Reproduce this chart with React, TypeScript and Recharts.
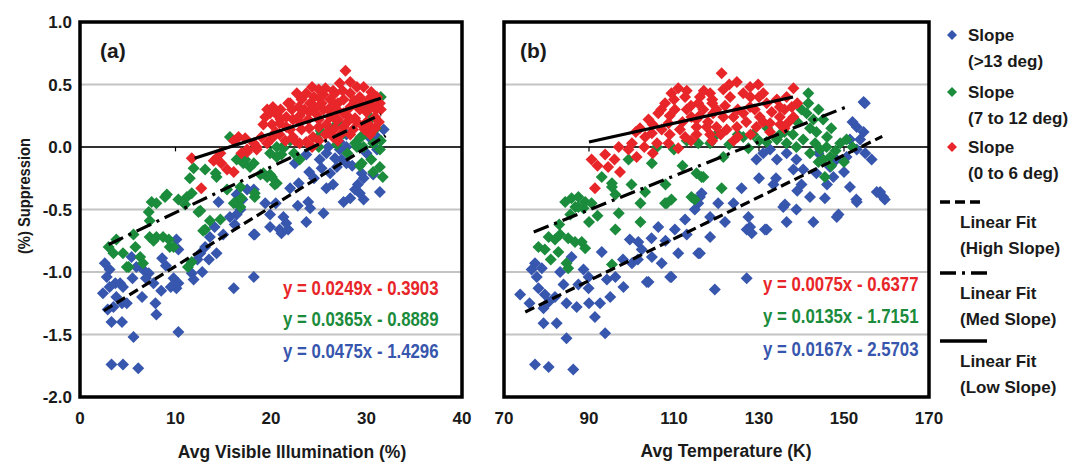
import {
  CartesianGrid,
  ReferenceArea,
  ReferenceLine,
  Scatter,
  ScatterChart,
  XAxis,
  YAxis,
} from "recharts";

const BLUE = "#3756ad";
const GREEN = "#1b8b3c";
const RED = "#e8262a";
const INK = "#1a1a1a";
const FONT = "'Liberation Sans', Arial, sans-serif";

// panel (a): suppression vs avg visible illumination (%)
const illumHigh = [
  [2.6, -0.93], [3.1, -0.98], [2.8, -1.04], [2.4, -1.17], [3.1, -1.12], [3.7, -1.09], [4.2, -1.09],
  [4.5, -1.12], [3.8, -1.2], [3.5, -1.28], [4.4, -1.25], [4.9, -1.25], [3.3, -1.4], [4.4, -1.4],
  [5.6, -1.52], [3.3, -1.74], [4.5, -1.74], [6.1, -1.77], [5.4, -0.88], [5.9, -0.96], [6.6, -0.98],
  [7.2, -1.01], [7.7, -1.09], [7.9, -1.25], [8.0, -1.34], [8.6, -0.89], [10.1, -0.74], [10.3, -0.82],
  [9.8, -1.05], [10.1, -1.13], [10.3, -1.09], [11.7, -1.01], [11.9, -1.06], [12.6, -0.85], [13.1, -0.8],
  [13.6, -0.72], [14.1, -0.64], [14.3, -0.85], [10.3, -1.48], [16.1, -1.13], [18.2, -1.04], [18.2, -0.7],
  [15.7, -0.56], [16.4, -0.54], [16.2, -0.62], [17.5, -0.34], [18.2, -0.34], [19.4, -0.45], [19.9, -0.54],
  [19.9, -0.64], [20.9, -0.66], [21.6, -0.61], [21.3, -0.56], [22.0, -0.33], [16.8, -0.5], [14.5, -0.44],
  [16.4, -0.38], [18.3, -0.7], [21.1, -0.69], [21.8, -0.66], [22.9, -0.29], [22.5, -0.13], [23.7, -0.06],
  [23.9, -0.44], [24.1, -0.49], [23.7, -0.6], [25.5, -0.53], [25.8, -0.33], [25.1, -0.1], [25.3, -0.17],
  [25.8, -0.05], [26.2, -0.21], [26.7, -0.09], [26.9, -0.16], [27.2, -0.02], [27.4, -0.1], [27.9, 0.0],
  [27.9, -0.13], [27.6, -0.44], [28.3, -0.41], [28.8, -0.34], [29.1, -0.3], [29.3, -0.37], [29.7, -0.42],
  [29.7, -0.25], [29.5, -0.21], [31.1, -0.02], [31.4, -0.36], [30.7, -0.22], [31.8, 0.14], [31.1, 0.08],
  [30.4, 0.07], [27.9, 0.1], [27.2, 0.04], [6.9, -1.05], [9.0, -0.95], [12.3, -0.9], [24.5, -0.25],
  [26.5, -0.3], [28.5, -0.15], [30.0, -0.05], [29.0, 0.02], [26.0, 0.0], [24.0, -0.2], [22.8, -0.47],
  [20.5, -0.45], [17.0, -0.42], [15.0, -0.7], [13.5, -0.9], [12.8, -1.0], [9.5, -1.12], [8.5, -1.15],
  [5.5, -1.05], [2.9, -1.3], [6.5, -1.2],
];
const illumMed = [
  [3.0, -0.8], [3.8, -0.74], [3.5, -0.85], [4.5, -0.85], [5.6, -0.7], [5.8, -0.8], [6.3, -0.88],
  [5.1, -0.96], [7.5, -0.44], [7.2, -0.52], [7.3, -0.72], [8.0, -0.72], [8.7, -0.72], [9.3, -0.74],
  [9.4, -0.8], [9.1, -0.38], [10.3, -0.42], [11.2, -0.4], [11.0, -0.46], [11.5, -0.25], [11.9, -0.17],
  [13.1, -0.18], [14.3, -0.24], [12.4, -0.52], [13.1, -0.66], [11.7, -0.92], [11.3, -0.96], [14.7, -0.58],
  [15.4, -0.34], [16.4, -0.44], [16.9, -0.41], [17.1, -0.13], [17.8, -0.16], [18.3, -0.4], [18.9, -0.22],
  [19.9, -0.22], [20.6, -0.29], [21.1, -0.06], [20.6, 0.0], [16.4, -0.1], [4.9, -0.96], [6.6, -0.93],
  [7.3, -0.59], [8.0, -0.45], [8.9, -0.4], [7.7, -0.75], [9.8, -0.8], [11.7, -0.37], [12.6, -0.51],
  [12.9, -0.67], [13.6, -0.59], [14.2, -0.21], [16.1, -0.45], [16.8, -0.48], [15.7, 0.08], [16.8, -0.32],
  [19.2, -0.21], [20.6, -0.08], [21.2, 0.0], [22.4, -0.05], [31.7, -0.24], [31.4, -0.16], [29.5, -0.13],
  [29.4, 0.08], [31.5, 0.4], [31.5, 0.05], [29.0, 0.0], [27.6, 0.11], [26.6, 0.16], [25.2, 0.13],
  [30.5, 0.23], [30.0, 0.11], [29.3, 0.07], [28.8, 0.03], [29.7, 0.0], [30.7, 0.03], [31.4, -0.02],
  [30.7, -0.2], [29.3, -0.15], [24.8, 0.07], [26.9, 0.02], [21.3, -0.01], [19.9, -0.05], [18.2, -0.13],
  [17.3, -0.1], [19.6, -0.24], [20.1, -0.24], [20.4, -0.3], [18.3, -0.37], [30.0, 0.3], [31.0, 0.15],
  [28.0, -0.05], [27.0, 0.2], [25.0, 0.0], [23.0, -0.1], [22.0, 0.05], [30.5, -0.1],
];
const illumLow = [
  [27.8, 0.61], [24.3, 0.48], [25.0, 0.46], [23.7, 0.43], [25.7, 0.47], [26.7, 0.43], [27.2, 0.51],
  [28.3, 0.52], [29.0, 0.48], [29.7, 0.48], [30.5, 0.44], [31.1, 0.4], [30.2, 0.38], [29.3, 0.4],
  [28.3, 0.43], [27.6, 0.38], [26.2, 0.38], [25.1, 0.39], [24.1, 0.35], [23.2, 0.38], [22.9, 0.32],
  [22.2, 0.3], [21.6, 0.24], [20.6, 0.26], [19.9, 0.27], [19.4, 0.24], [19.2, 0.18], [20.1, 0.18],
  [20.9, 0.19], [21.6, 0.16], [20.9, 0.1], [20.1, 0.07], [22.3, 0.08], [23.2, 0.14], [23.9, 0.22],
  [24.8, 0.26], [25.5, 0.3], [26.2, 0.24], [26.9, 0.3], [27.6, 0.27], [28.3, 0.32], [28.8, 0.23],
  [29.3, 0.3], [30.0, 0.28], [30.7, 0.32], [30.9, 0.24], [30.5, 0.16], [29.7, 0.16], [28.6, 0.14],
  [27.6, 0.16], [26.7, 0.15], [25.8, 0.18], [25.0, 0.16], [24.4, 0.08], [23.7, 0.04], [23.0, 0.03],
  [24.3, 0.0], [25.7, 0.1], [26.5, 0.08], [28.3, 0.1], [29.8, 0.14], [30.9, 0.15], [20.2, 0.32],
  [19.6, 0.3], [17.3, 0.07], [18.2, 0.03], [18.5, -0.02], [17.5, -0.04], [22.3, 0.22], [24.6, 0.32],
  [26.4, 0.32], [22.7, 0.43], [11.7, -0.09], [12.7, -0.33], [14.3, -0.09], [14.8, -0.13], [15.4, -0.18],
  [16.1, -0.2], [14.7, -0.05], [16.9, -0.05], [17.5, -0.02], [18.5, 0.0], [19.6, 0.03], [14.0, -0.11],
  [16.1, 0.05], [16.6, 0.08], [20.3, 0.29], [31.5, 0.3], [31.3, 0.2], [27.0, 0.05], [21.5, 0.05],
  [21.0, 0.3], [22.0, 0.35], [23.0, 0.25], [23.5, 0.3], [24.5, 0.4], [25.5, 0.42], [26.0, 0.3],
  [26.5, 0.45], [27.0, 0.35], [27.5, 0.45], [28.0, 0.25], [28.7, 0.37], [29.5, 0.34], [30.3, 0.35],
  [31.0, 0.3], [31.4, 0.35], [30.0, 0.2], [29.0, 0.2], [28.0, 0.2], [27.0, 0.22], [26.0, 0.12],
  [25.0, 0.22], [24.0, 0.15], [23.0, 0.2], [22.0, 0.14], [21.0, 0.22], [22.5, 0.05], [25.0, 0.05],
  [24.0, 0.28], [25.3, 0.35], [26.8, 0.22], [27.3, 0.1], [30.4, 0.1], [21.8, 0.35], [20.5, 0.12],
  [19.0, 0.08],
];

// panel (b): suppression vs avg temperature (K)
const tempHigh = [
  [77.3, -0.93], [76.5, -0.98], [78.9, -0.97], [77.7, -1.04], [73.8, -1.18], [78.1, -1.13], [79.6, -1.18],
  [80.5, -1.24], [79.3, -1.29], [83.2, -1.0], [85.9, -0.88], [84.7, -1.25], [87.1, -1.28], [79.3, -1.41],
  [82.4, -1.41], [84.7, -1.53], [77.3, -1.74], [80.5, -1.76], [86.3, -1.78], [93.0, -0.84], [88.7, -0.98],
  [89.9, -1.04], [87.5, -1.1], [89.9, -1.13], [92.6, -1.25], [91.4, -1.36], [93.8, -1.49], [94.2, -1.06],
  [96.2, -1.04], [98.1, -1.12], [99.6, -0.74], [101.6, -0.76], [102.4, -0.82], [104.7, -0.73], [106.3, -0.64],
  [107.1, -0.93], [104.0, -1.08], [109.4, -1.04], [110.2, -0.66], [112.6, -0.58], [115.7, -0.85], [115.7, -0.45],
  [116.5, -0.37], [100.1, -0.93], [104.8, -0.88], [116.1, -0.4], [120.4, -0.45], [114.9, -0.5], [118.5, -0.56],
  [118.5, -0.72], [116.1, -0.85], [127.5, -0.56], [127.9, -0.64], [128.3, -0.69], [125.9, -0.33], [131.8, -0.66],
  [133.4, -0.3], [136.1, -0.46], [136.5, -0.6], [138.8, -0.5], [142.8, -0.6], [145.5, -0.41], [148.7, -0.54],
  [151.4, -0.32], [152.9, -0.42], [156.5, -0.1], [157.7, -0.36], [159.2, -0.4], [154.6, 0.36], [153.0, 0.16],
  [151.4, 0.06], [153.8, 0.06], [153.0, -0.02], [150.6, -0.08], [154.6, 0.12], [148.2, -0.1], [146.7, -0.16],
  [132.6, -0.02], [134.2, -0.1], [136.5, -0.05], [138.8, -0.1], [138.1, -0.18], [140.4, -0.18], [143.5, -0.21],
  [147.5, -0.24], [131.0, -0.05], [129.4, -0.1], [119.6, -1.14], [127.1, -1.05], [158.5, -0.36], [159.6, -0.42],
  [153.0, -0.44], [148.3, -0.56], [135.7, -0.48], [127.1, -0.66], [131.4, -0.66], [109.1, -1.04], [103.6, -1.08],
  [154.9, 0.35], [101.5, -0.9], [108.0, -0.75], [140.0, -0.3], [142.0, -0.4], [144.0, -0.05], [150.0, -0.2],
  [146.0, -0.3], [155.0, -0.05], [152.0, 0.2], [139.0, -0.35], [134.0, -0.25], [130.0, -0.25], [124.0, -0.45],
  [122.0, -0.6], [113.0, -0.7], [111.0, -0.85], [98.0, -0.9], [95.0, -1.2], [90.0, -1.25], [84.0, -1.1],
  [82.0, -1.2], [76.0, -1.25],
];
const tempMed = [
  [84.4, -0.44], [85.9, -0.41], [87.5, -0.4], [89.1, -0.44], [86.8, -0.48], [85.6, -0.54], [88.7, -0.49],
  [90.6, -0.45], [93.0, -0.24], [95.4, -0.29], [96.2, -0.38], [97.0, -0.53], [96.2, -0.66], [102.1, -0.45],
  [102.1, -0.6], [103.2, -0.36], [108.3, -0.45], [109.4, -0.42], [114.1, -0.4], [78.1, -0.8], [79.6, -0.82],
  [80.5, -0.72], [82.0, -0.74], [83.2, -0.7], [82.8, -0.84], [85.1, -0.73], [86.7, -0.76], [88.3, -0.76],
  [89.1, -0.81], [84.7, -0.93], [85.1, -0.97], [95.4, -0.94], [95.4, -0.32], [104.8, -0.13], [99.3, -0.1],
  [107.9, -0.45], [115.7, 0.03], [116.5, -0.24], [114.9, -0.42], [87.5, -0.48], [118.5, 0.03], [121.6, -0.08],
  [126.3, 0.08], [128.6, 0.1], [127.5, -0.01], [131.8, 0.04], [134.2, 0.06], [136.5, 0.03], [141.6, 0.43],
  [141.6, 0.35], [141.2, 0.27], [142.8, 0.22], [143.5, 0.12], [145.1, 0.22], [143.2, 0.03], [144.4, -0.02],
  [145.9, 0.0], [146.7, -0.08], [145.1, -0.1], [145.5, -0.24], [149.1, 0.03], [150.6, 0.06], [115.3, -0.21],
  [116.9, -0.24], [121.2, -0.33], [134.9, 0.1], [138.8, 0.0], [140.4, 0.06], [106.0, 0.0], [110.0, -0.02],
  [123.0, 0.02], [139.0, 0.2], [147.0, 0.15], [140.0, 0.3], [142.0, 0.15], [144.0, 0.3], [146.0, 0.08],
  [147.0, -0.15], [148.0, -0.03], [150.0, -0.12], [152.0, 0.0], [144.0, -0.12], [142.0, -0.05], [138.0, 0.1],
  [136.0, 0.12], [132.0, 0.15], [130.0, 0.05], [125.0, 0.1], [120.0, 0.1], [113.0, 0.05], [108.0, -0.3],
  [112.0, -0.15], [100.0, -0.3], [92.0, -0.55], [90.0, -0.6], [81.0, -0.9], [83.0, -0.62],
];
const tempLow = [
  [90.6, -0.1], [93.8, -0.06], [94.5, -0.16], [97.3, -0.2], [91.4, -0.33], [99.3, -0.02], [101.2, -0.08],
  [100.1, 0.03], [103.2, 0.08], [104.8, 0.11], [106.0, 0.03], [108.7, 0.03], [111.0, -0.01], [112.6, 0.08],
  [104.0, 0.22], [106.3, 0.27], [107.9, 0.35], [109.4, 0.43], [111.0, 0.47], [112.6, 0.4], [110.2, 0.3],
  [108.7, 0.19], [107.1, 0.14], [114.1, 0.24], [115.7, 0.35], [115.3, 0.16], [111.4, 0.14], [121.2, 0.59],
  [124.8, 0.52], [129.8, 0.5], [138.1, 0.47], [116.1, 0.4], [118.5, 0.43], [121.6, 0.46], [123.2, 0.4],
  [126.3, 0.43], [127.9, 0.32], [131.8, 0.35], [134.2, 0.38], [136.5, 0.4], [137.7, 0.32], [138.1, 0.24],
  [134.9, 0.24], [132.6, 0.19], [130.2, 0.24], [129.4, 0.16], [132.6, 0.12], [126.3, 0.27], [124.0, 0.24],
  [121.6, 0.24], [119.2, 0.27], [116.9, 0.3], [115.3, 0.22], [117.7, 0.16], [120.0, 0.16], [122.4, 0.14],
  [118.5, 0.1], [115.3, 0.1], [124.8, 0.16], [134.9, 0.32], [131.0, 0.43], [127.9, 0.48], [102.0, 0.15],
  [113.0, 0.3], [119.0, 0.35], [128.0, 0.4], [136.0, 0.15], [105.0, 0.18], [107.0, 0.3], [109.0, 0.25],
  [110.0, 0.38], [112.0, 0.2], [113.0, 0.45], [114.0, 0.33], [116.0, 0.25], [117.0, 0.45], [118.0, 0.2],
  [119.0, 0.38], [120.0, 0.3], [121.0, 0.1], [122.0, 0.33], [123.0, 0.5], [125.0, 0.3], [125.0, 0.08],
  [127.0, 0.2], [128.0, 0.1], [129.0, 0.3], [130.0, 0.4], [131.0, 0.2], [133.0, 0.28], [135.0, 0.18],
  [136.0, 0.3], [137.0, 0.2], [139.0, 0.35], [103.0, 0.0], [109.0, 0.1], [114.0, 0.05], [119.0, 0.05],
  [124.0, 0.05], [101.0, 0.12], [105.0, -0.05], [97.0, 0.0], [96.0, -0.1], [92.0, -0.15],
];

// fit line end points
const illumFitHigh = [[2.5, -1.31], [32, 0.09]];
const illumFitMed = [[3, -0.78], [31.5, 0.26]];
const illumFitLow = [[12, -0.09], [31.5, 0.39]];
const tempFitHigh = [[75, -1.32], [159, 0.085]];
const tempFitMed = [[77, -0.68], [150.5, 0.32]];
const tempFitLow = [[90, 0.04], [138, 0.4]];

const illumEquations = ["y = 0.0249x - 0.3903", "y = 0.0365x - 0.8889", "y = 0.0475x - 1.4296"];
const tempEquations = ["y = 0.0075x - 0.6377", "y = 0.0135x - 1.7151", "y = 0.0167x - 2.5703"];

const illumTicks = [0, 10, 20, 30, 40];
const tempTicks = [70, 90, 110, 130, 150, 170];
const suppressionTicks = [-2, -1.5, -1, -0.5, 0, 0.5, 1];

const DASH = "10 5";
const DASH_DOT = "16 6 3 6";

type Pt = { x: number; y: number };
const toPts = (rows: number[][]): Pt[] => rows.map(([x, y]) => ({ x, y }));

function Diamond(props: any) {
  const { cx, cy, fill } = props;
  if (cx == null || cy == null) return <g />;
  const r = 6;
  return <path d={`M${cx},${cy - r}L${cx + r},${cy}L${cx},${cy + r}L${cx - r},${cy}Z`} fill={fill} />;
}

const NoDot = () => <g />;

const tickStyle = { fill: INK, fontSize: 17, fontWeight: 700, fontFamily: FONT };

interface PanelProps {
  left: number;
  width: number;
  margin: { top: number; right: number; bottom: number; left: number };
  domain: [number, number];
  ticks: number[];
  showY: boolean;
  high: number[][];
  med: number[][];
  low: number[][];
  fits: number[][][];
}

function Panel({ left, width, margin, domain, ticks, showY, high, med, low, fits }: PanelProps) {
  const inner = ticks.slice(1, -1);
  const styles = [DASH, DASH_DOT, undefined];
  return (
    <div style={{ position: "absolute", left, top: 0 }}>
      <ScatterChart width={width} height={463} margin={margin}>
        <CartesianGrid horizontal vertical={false} stroke="#c4c4c4" strokeWidth={2} />
        <XAxis
          type="number"
          dataKey="x"
          domain={domain}
          ticks={ticks}
          axisLine={false}
          tickLine={false}
          tickMargin={9}
          tick={tickStyle}
          interval={0}
        />
        <YAxis
          type="number"
          dataKey="y"
          domain={[-2, 1]}
          ticks={suppressionTicks}
          hide={!showY}
          width={45}
          axisLine={false}
          tickLine={false}
          tickFormatter={(v: number) => v.toFixed(1)}
          tick={tickStyle}
          interval={0}
        />
        <ReferenceLine y={0} stroke="#000" strokeWidth={1.6} />
        {inner.map((t) => (
          <ReferenceLine
            key={t}
            segment={[{ x: t, y: 0 }, { x: t, y: -0.035 }]}
            stroke="#000"
            strokeWidth={1.2}
          />
        ))}
        <Scatter data={toPts(high)} fill={BLUE} shape={Diamond} isAnimationActive={false} />
        <Scatter data={toPts(med)} fill={GREEN} shape={Diamond} isAnimationActive={false} />
        <Scatter data={toPts(low)} fill={RED} shape={Diamond} isAnimationActive={false} />
        {fits.map((f, i) => (
          <Scatter
            key={i}
            data={toPts(f)}
            shape={NoDot}
            line={{ stroke: "#000", strokeWidth: 3.2, strokeDasharray: styles[i] }}
            lineType="joint"
            isAnimationActive={false}
          />
        ))}
        <ReferenceArea
          x1={domain[0]}
          x2={domain[1]}
          y1={-2}
          y2={1}
          fill="none"
          stroke="#000"
          strokeWidth={3.5}
          ifOverflow="visible"
        />
      </ScatterChart>
    </div>
  );
}

const textBase = {
  position: "absolute" as const,
  fontFamily: FONT,
  fontWeight: 700,
  whiteSpace: "nowrap" as const,
  lineHeight: 1,
  color: INK,
};

function Equations({ left, tops, lines }: { left: number; tops: number[]; lines: string[] }) {
  const colors = [RED, GREEN, BLUE];
  return (
    <>
      {lines.map((l, i) => (
        <div
          key={i}
          style={{
            ...textBase,
            left,
            top: tops[i],
            color: colors[i],
            fontSize: 21,
            transform: "scaleX(0.8)",
            transformOrigin: "left center",
          }}
        >
          {l}
        </div>
      ))}
    </>
  );
}

function LegendBlock() {
  const txt = { ...textBase, fontSize: 17, left: 968 };
  const fitTxt = { ...txt, left: 960 };
  const markers: [string, number][] = [
    [BLUE, 35],
    [GREEN, 92],
    [RED, 147],
  ];
  const labels = ["(>13 deg)", "(7 to 12 deg)", "(0 to 6 deg)"];
  const fitLabels = ["(High Slope)", "(Med Slope)", "(Low Slope)"];
  const fitY = [202, 273, 341];
  const fitDash = [DASH, DASH_DOT, undefined];
  return (
    <>
      <svg style={{ position: "absolute", left: 930, top: 0 }} width={70} height={400}>
        {markers.map(([c, y]) => (
          <path key={c} d={`M22,${y - 5}L27,${y}L22,${y + 5}L17,${y}Z`} fill={c} />
        ))}
        {fitY.map((y, i) => (
          <line
            key={y}
            x1={10}
            x2={i === 0 ? 53 : 57}
            y1={y}
            y2={y}
            stroke="#000"
            strokeWidth={3.4}
            strokeDasharray={fitDash[i]}
          />
        ))}
      </svg>
      {markers.map(([c, y], i) => (
        <div key={c}>
          <div style={{ ...txt, top: y - 8 }}>Slope</div>
          <div style={{ ...txt, top: y + 18 }}>{labels[i]}</div>
        </div>
      ))}
      {fitY.map((y, i) => (
        <div key={y}>
          <div style={{ ...fitTxt, top: y + 12 }}>Linear Fit</div>
          <div style={{ ...fitTxt, top: y + 38 }}>{fitLabels[i]}</div>
        </div>
      ))}
    </>
  );
}

export default function App() {
  return (
    <div
      style={{
        position: "absolute",
        left: 0,
        top: 0,
        width: 1069,
        height: 463,
        background: "#fff",
        overflow: "hidden",
        fontFamily: FONT,
      }}
    >
      <Panel
        left={0}
        width={480}
        margin={{ top: 22, right: 18, bottom: 36, left: 35 }}
        domain={[0, 40]}
        ticks={illumTicks}
        showY
        high={illumHigh}
        med={illumMed}
        low={illumLow}
        fits={[illumFitHigh, illumFitMed, illumFitLow]}
      />
      <Panel
        left={480}
        width={480}
        margin={{ top: 22, right: 31, bottom: 36, left: 24 }}
        domain={[70, 170]}
        ticks={tempTicks}
        showY={false}
        high={tempHigh}
        med={tempMed}
        low={tempLow}
        fits={[tempFitHigh, tempFitMed, tempFitLow]}
      />
      <div style={{ ...textBase, left: 100, top: 40, fontSize: 21 }}>(a)</div>
      <div style={{ ...textBase, left: 520, top: 40, fontSize: 21 }}>(b)</div>
      <Equations left={283} tops={[277, 308, 340]} lines={illumEquations} />
      <Equations left={763} tops={[273, 305, 338]} lines={tempEquations} />
      <div
        style={{
          ...textBase,
          left: 25,
          top: 196,
          fontSize: 16,
          transform: "translate(-50%, -50%) rotate(-90deg) scaleX(0.92)",
        }}
      >
        (%) Suppression
      </div>
      <div style={{ ...textBase, left: 292, top: 453, fontSize: 17.5, transform: "translate(-50%, -50%)" }}>
        Avg Visible Illumination (%)
      </div>
      <div style={{ ...textBase, left: 726, top: 452, fontSize: 17.5, transform: "translate(-50%, -50%)" }}>
        Avg Temperature (K)
      </div>
      <LegendBlock />
    </div>
  );
}
